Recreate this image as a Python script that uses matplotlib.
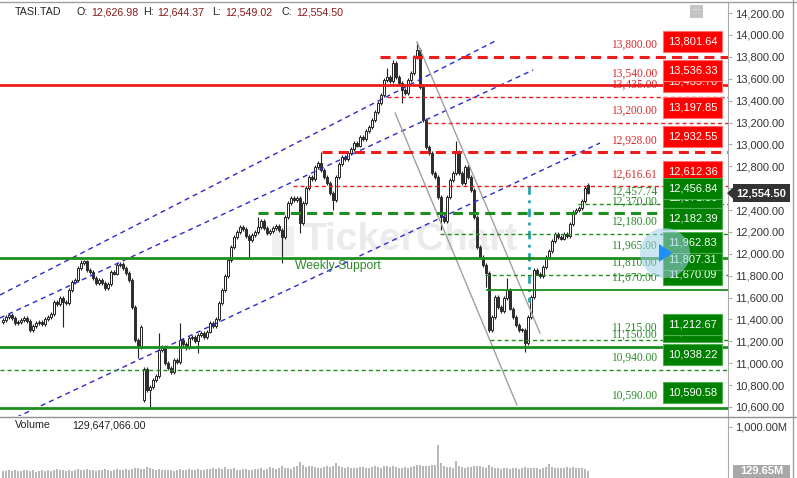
import matplotlib.pyplot as plt
from matplotlib.patches import Rectangle, Circle, Polygon
from matplotlib.transforms import blended_transform_factory

plt.rcParams['font.family'] = ['Liberation Sans', 'DejaVu Sans']

# ---- data (daily candles, TASI) ----
closes = [
    11395, 11420, 11441, 11410, 11368, 11380, 11395, 11410, 11390, 11304,
    11340, 11368, 11380, 11360, 11400, 11422, 11450, 11560, 11540, 11596,
    11560, 11550, 11669, 11740, 11761, 11870, 11916, 11930, 11850, 11834,
    11780, 11733, 11760, 11733, 11690, 11720, 11834, 11820, 11898, 11910,
    11870, 11825, 11761, 11514, 11212, 11148, 11331, 10950, 10755, 10783,
    10847, 10880, 11121, 11150, 11002, 10960, 10920, 11030, 11010, 11212,
    11180, 11148, 11230, 11240, 11200, 11260, 11276, 11240, 11290, 11368,
    11340, 11400, 11550, 11669, 11800, 11944, 12062, 12154, 12200, 12245,
    12230, 12160, 12126, 12172, 12200, 12245, 12300, 12240, 12190, 12210,
    12236, 12250, 12220, 12154, 12337, 12464, 12510, 12490, 12510, 12282,
    12464, 12600, 12702, 12680, 12790, 12830, 12766, 12700, 12647, 12560,
    12492, 12700, 12820, 12885, 12870, 12921, 12960, 13013, 12990, 13068,
    13050, 13120, 13159, 13223, 13300, 13378, 13450, 13589, 13616, 13580,
    13744, 13620, 13561, 13497, 13470, 13589, 13653, 13799, 13863, 13525,
    13223, 12976, 12921, 12739, 12700, 12520, 12337, 12300, 12520, 12675,
    12739, 12930, 12739, 12647, 12794, 12702, 12583, 12337, 12062, 11971,
    11900, 11825, 11304, 11422, 11605, 11514, 11480, 11600, 11669, 11500,
    11422, 11349, 11304, 11304, 11185, 11422, 11605, 11850, 11820, 11800,
    11880, 11970, 12030, 12120, 12180, 12150, 12140, 12180, 12160, 12270,
    12380, 12400, 12420, 12480, 12600, 12554.50,
]
first_open = 11380
gap_opens = {47: 10664}
wick_highs = {26: 11944, 52: 11276, 59: 11368, 85: 12337, 106: 12930,
              128: 13700, 130: 13772, 138: 13936, 151: 13030, 168: 11780}
wick_lows = {20: 11331, 45: 11048, 49: 10600, 61: 11121, 65: 11090,
             82: 11971, 93: 11916, 99: 12190, 110: 12400, 133: 13378,
             146: 12218, 161: 11697, 174: 11103}
last_ohlc = [12626.98, 12644.37, 12549.02, 12554.50]

# volume in millions
volumes = [
    140, 130, 150, 135, 155, 140, 130, 150, 160, 135,
    150, 125, 140, 165, 145, 160, 140, 155, 170, 150,
    160, 140, 150, 135, 155, 175, 160, 150, 185, 160,
    155, 140, 160, 150, 170, 155, 145, 160, 175, 150,
    160, 170, 165, 180, 205, 190, 175, 185, 220, 200,
    175, 165, 180, 160, 150, 165, 155, 140, 160, 170,
    155, 165, 175, 150, 160, 170, 155, 165, 180, 170,
    190, 175, 200, 185, 210, 180, 175, 190, 165, 160,
    175, 185, 165, 155, 180, 170, 190, 165, 175, 220,
    200, 185, 190, 230, 195, 205, 180, 215, 240, 313,
    250, 210, 225, 230, 215, 200, 205, 220, 230, 210,
    235, 294, 240, 220, 205, 215, 200, 190, 205, 220,
    210, 195, 205, 215, 230, 220, 200, 235, 225, 210,
    230, 215, 205, 190, 220, 200, 215, 230, 250, 260,
    240, 225, 230, 245, 250, 645, 290, 230, 220, 210,
    205, 333, 230, 215, 200, 220, 210, 240, 225, 235,
    220, 205, 250, 210, 200, 190, 185, 205, 195, 180,
    190, 200, 185, 195, 215, 205, 190, 200, 195, 185,
    205, 215, 274, 220, 200, 190, 205, 195, 210, 200,
    215, 190, 205, 195, 180, 129.65,
]
last_volume = 129647066.00

# support / resistance levels
level_values = [13800, 13540, 13435, 13200, 12928, 12616.61,
                12457.74, 12370, 12180, 11965, 11810, 11670, 11215, 11150, 10940, 10590]
level_colors = ['red'] * 6 + ['green'] * 10
level_kinds = ['dash_thick', 'solid_thick', 'dash_thin', 'dash_thin', 'dash_thick', 'dash_thin',
               'dash_thin', 'dash_thick', 'dash_thin', 'solid_thick', 'dash_thin', 'solid_thin',
               'dash_thin', 'solid_thick', 'dash_thin', 'solid_thick']
level_starts = [125.7, -1, 128, 141.3, 106.3, 96.7,
                191.7, 85, 145.7, -1, 160.7, 161.3, 162.3, -1, -1, -1]

# price tags on the right (in drawing order)
box_values = [13801.64, 13435.70, 13536.33, 13197.85, 12932.55, 12612.36,
              12371.50, 12456.84, 12182.39, 11670.09, 11807.31, 11962.83,
              11148.90, 11212.67, 10938.22, 10590.58]
box_colors = ['red'] * 6 + ['green'] * 10

# trend channels: (x candle index pair, price pair)
blue_lines = [([-1, 164.7], [11624, 13954]),
              ([-1, 176.7], [11413, 13680]),
              ([-1, 199], [10435, 13013])]
gray_lines = [([138, 179], [13936, 11276]),
              ([130.7, 171.3], [13287, 10618])]
measure_x = 175.3
measure_range = [12616.61, 11560]

RED = '#ee1c1c'
GREEN = '#1d8f1d'
RED_TXT = '#d42a2a'
GREEN_TXT = '#2a8a2a'

W, H = 797, 478
fig = plt.figure(figsize=(W / 100, H / 100), dpi=100)
ax = fig.add_axes([0, (H - 416) / H, 728 / W, 414 / H])
axv = fig.add_axes([0, 0, 728 / W, 61 / H])

ax.set_xlim(-1, 241.67)
ax.set_ylim(10517.7, 14301.6)
ppp = (14301.6 - 10517.7) / 414  # price per pixel
trans = blended_transform_factory(ax.transAxes, ax.transData)
x_end = ax.get_xlim()[1]

# watermark
ax.text(303 / W, 1 - 240 / H, 'TickerChart', transform=fig.transFigure, fontsize=28,
        fontweight='bold', color='#ebebeb', va='center', ha='left', zorder=1)
ax.add_patch(Rectangle((272 / W, 1 - 256 / H), 22 / W, 30 / H, transform=fig.transFigure,
                       fc='#efefef', ec='none', zorder=1))

# candles
n = len(closes)
xs = list(range(n))
opens = [first_open] + closes[:-1]
for i, o in gap_opens.items():
    opens[i] = o
opens[-1] = last_ohlc[0]
highs = [max(o, c) + 18 for o, c in zip(opens, closes)]
lows = [min(o, c) - 18 for o, c in zip(opens, closes)]
for i, v in wick_highs.items():
    highs[i] = v
for i, v in wick_lows.items():
    lows[i] = v
highs[-1] = last_ohlc[1]
lows[-1] = last_ohlc[2]

ax.vlines(xs, lows, highs, color='#222222', lw=0.8, zorder=2)
up = [i for i in xs if closes[i] >= opens[i]]
dn = [i for i in xs if closes[i] < opens[i]]
ax.bar(up, [max(closes[i] - opens[i], ppp) for i in up], bottom=[opens[i] for i in up],
       width=0.75, color='white', edgecolor='#222222', linewidth=0.7, zorder=3)
ax.bar(dn, [max(opens[i] - closes[i], ppp) for i in dn], bottom=[closes[i] for i in dn],
       width=0.75, color='#2e2e2e', edgecolor='#2e2e2e', linewidth=0.7, zorder=3)

# channels
for lx, ly in blue_lines:
    ax.plot(lx, ly, color='#2a2ad0', lw=1.0, linestyle=(0, (3.6, 2.9)), zorder=4)
for lx, ly in gray_lines:
    ax.plot(lx, ly, color='#a0a0a0', lw=1.0, zorder=4)
ax.plot([measure_x, measure_x], measure_range, color='#2aa3a8', lw=2.0,
        linestyle=(0, (3, 2, 1, 2)), zorder=4)

# levels and their labels
for v, col, kind, start in zip(level_values, level_colors, level_kinds, level_starts):
    c = RED if col == 'red' else GREEN
    if kind == 'solid_thick':
        ax.plot([start, x_end], [v, v], color=c, lw=2.0, zorder=5)
    elif kind == 'solid_thin':
        ax.plot([start, x_end], [v, v], color=c, lw=1.3, zorder=5)
    elif kind == 'dash_thick':
        ax.plot([start, x_end], [v, v], color=c, lw=2.2, linestyle=(0, (3.3, 2.0)), zorder=5)
    else:
        ax.plot([start, x_end], [v, v], color=c, lw=1.0, linestyle=(0, (2.9, 2.2)), zorder=5)
    ax.annotate(f'{v:,.2f}', xy=(657 / 728, v), xycoords=trans, xytext=(0, 8.6),
                textcoords='offset points', ha='right', va='center', fontsize=8.3,
                family='Liberation Serif', color=RED_TXT if col == 'red' else GREEN_TXT, zorder=6)

ax.annotate('Weekly Support', xy=(97.3, 11965), xytext=(0, -6), textcoords='offset points',
            ha='left', va='center', fontsize=8.7, color=GREEN_TXT, zorder=6)

for k, (v, col) in enumerate(zip(box_values, box_colors)):
    fc = '#ff0000' if col == 'red' else '#008000'
    ec = '#ff7070' if col == 'red' else '#4caf4c'
    y0 = v + 5 * ppp
    ax.add_patch(Rectangle((663 / 728, y0), 59 / 728, 21 * ppp, transform=trans,
                           fc=fc, ec=ec, lw=0.8, zorder=7 + k * 0.01))
    ax.text(692.5 / 728, y0 + 10.5 * ppp, f'{v:,.2f}', transform=trans, ha='center',
            va='center', color='white', fontsize=8, zorder=7.005 + k * 0.01)

# right axis
ax.yaxis.tick_right()
ax.set_yticks(range(10600, 14201, 200))
ax.set_yticklabels([f'{t:,.2f}' for t in range(10600, 14201, 200)])
ax.tick_params(axis='y', length=3, width=0.6, color='#999999', labelsize=8,
               labelcolor='#333333', pad=2)
ax.set_xticks([])
for s in ['top', 'left', 'bottom']:
    ax.spines[s].set_visible(False)
ax.spines['right'].set_color('#aaaaaa')
ax.spines['right'].set_linewidth(0.8)

# last price tag
lp = last_ohlc[3]
ax.add_patch(Rectangle((733 / 728, lp - 9 * ppp), 57 / 728, 18 * ppp, transform=trans,
                       fc='#333333', ec='none', clip_on=False, zorder=20))
ax.add_patch(Polygon([(727 / 728, lp), (733.5 / 728, lp + 6 * ppp), (733.5 / 728, lp - 6 * ppp)],
                     closed=True, transform=trans, fc='#333333', ec='none', clip_on=False, zorder=20))
ax.text(761.5 / 728, lp, f'{lp:,.2f}', transform=trans, ha='center', va='center',
        color='white', fontsize=8, fontweight='bold', clip_on=False, zorder=21)

# volume panel
axv.set_xlim(-1, 241.67)
axv.set_ylim(0, 1193)
axv.bar(xs, volumes, width=0.85, color='#b8b8b8', linewidth=0, zorder=2)
axv.yaxis.tick_right()
axv.set_yticks([1000])
axv.set_yticklabels(['1,000.00M'])
axv.tick_params(axis='y', length=3, width=0.6, color='#999999', labelsize=8,
                labelcolor='#333333', pad=2)
axv.set_xticks([])
for s in ['top', 'left', 'bottom']:
    axv.spines[s].set_visible(False)
axv.spines['right'].set_color('#aaaaaa')
axv.spines['right'].set_linewidth(0.8)
vtrans = blended_transform_factory(axv.transAxes, axv.transData)
lv = volumes[-1]
axv.add_patch(Rectangle((733 / 728, lv - 130), 57 / 728, 260, transform=vtrans,
                        fc='#a8a8a8', ec='none', clip_on=False, zorder=20))
axv.text(761.5 / 728, lv, f'{lv:,.2f}M', transform=vtrans, ha='center', va='center',
         color='white', fontsize=8, fontweight='bold', clip_on=False, zorder=21)
axv.text(15 / 728, 1 - 8 / 61, 'Volume', transform=axv.transAxes, fontsize=7.7,
         color='#222222', va='center')
axv.text(72 / 728, 1 - 8 / 61, f'{last_volume:,.2f}', transform=axv.transAxes, fontsize=7.7,
         color='#222222', va='center')

# overlay in pixel space for chrome
ov = fig.add_axes([0, 0, 1, 1])
ov.set_xlim(0, W)
ov.set_ylim(H, 0)
ov.axis('off')
ov.set_zorder(10)
ov.plot([0, W], [1.5, 1.5], color='#a0a0a0', lw=1)
ov.plot([0, W], [416.5, 416.5], color='#909090', lw=1)
ov.plot([793.5, 793.5], [0, H], color='#a0a0a0', lw=1)

hdr_x = [15, 77, 91, 143, 157, 212, 225, 282, 296]
hdr_txt = ['TASI.TAD', 'O:', f'{last_ohlc[0]:,.2f}', 'H:', f'{last_ohlc[1]:,.2f}',
           'L:', f'{last_ohlc[2]:,.2f}', 'C:', f'{last_ohlc[3]:,.2f}']
hdr_col = ['#222222', '#222222', '#8b1a1a', '#222222', '#8b1a1a',
           '#222222', '#8b1a1a', '#222222', '#8b1a1a']
for hx, ht, hc in zip(hdr_x, hdr_txt, hdr_col):
    ov.text(hx, 12, ht, fontsize=7.7, color=hc, va='center', ha='left')

ov.add_patch(Rectangle((690, 5), 13, 13, fc='#c4c4c4', ec='none'))
ov.text(696.5, 10.5, '···', color='white', fontsize=6, ha='center', va='center', fontweight='bold')

# play overlay
ov.add_patch(Circle((665, 253), 25, fc='#9fd0e8', ec='none', alpha=0.55))
ov.add_patch(Polygon([(659, 244), (659, 262), (672, 253)], closed=True, fc='#1e8fff', ec='none'))

fig.savefig('out.png', dpi=100)
